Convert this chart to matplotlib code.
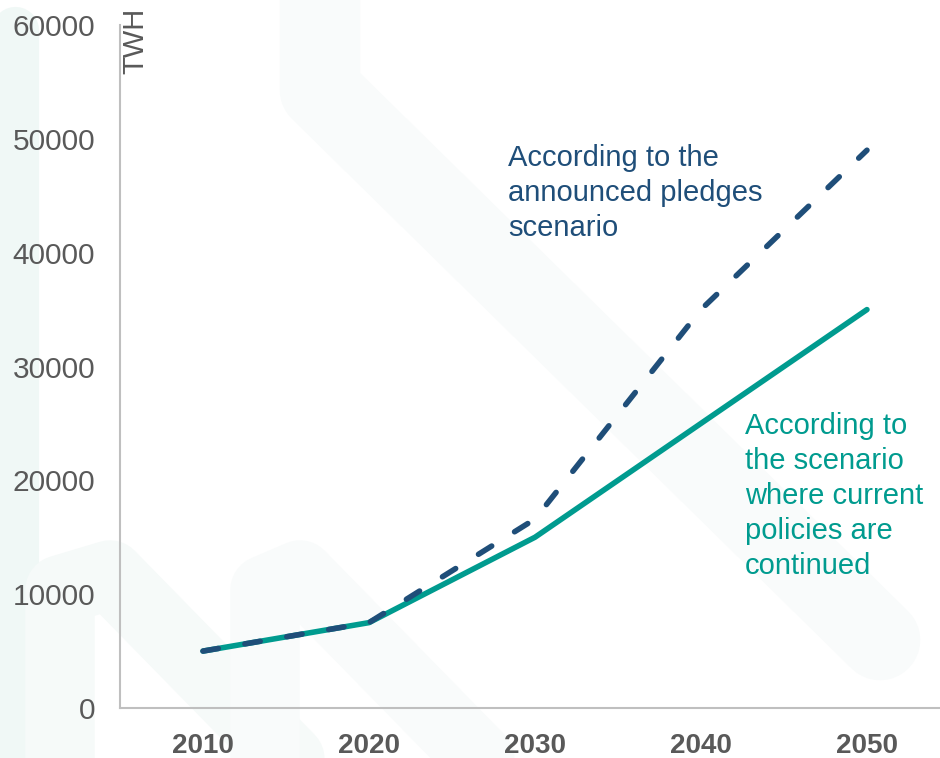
import matplotlib
matplotlib.use("Agg")
import matplotlib.pyplot as plt
from matplotlib.lines import Line2D

years = ["2010", "2020", "2030", "2040", "2050"]
current_policies = [5000, 7500, 15000, 25000, 35000]
announced_pledges = [5000, 7500, 16600, 35000, 49000]
yticks = [0, 10000, 20000, 30000, 40000, 50000, 60000]

plt.rcParams['font.family'] = ['Liberation Sans', 'DejaVu Sans']

W, H = 940, 758
fig = plt.figure(figsize=(W / 100, H / 100), dpi=100)

# faint background watermark shapes
def band(pts, lw, color):
    xs = [p[0] / W for p in pts]
    ys = [1 - p[1] / H for p in pts]
    fig.add_artist(Line2D(xs, ys, transform=fig.transFigure, color=color, lw=lw,
                          solid_capstyle='round', solid_joinstyle='round', zorder=0))

band([(15, 30), (15, 800)], 34, '#F0F8F6')
band([(320, -100), (320, 90), (880, 640)], 58, '#F9FBFB')
band([(60, 800), (60, 590), (110, 575), (330, 800)], 50, '#F6FAF9')
band([(265, 800), (265, 590), (300, 575), (520, 800)], 50, '#F9FBFB')

ax = fig.add_axes([120 / W, 1 - 708 / H, 820 / W, (708 - 25) / H])
ax.patch.set_alpha(0)

x = list(range(len(years)))
ax.plot(x, current_policies, color='#009B8F', lw=4.0, solid_capstyle='round', zorder=3)
ax.plot(x, announced_pledges, color='#1F4E79', lw=4.0, dashes=(2.8, 4.85),
        dash_capstyle='round', zorder=4)

ax.set_xlim(-0.5, 4.44)
ax.set_ylim(0, 60000)
ax.set_xticks(x)
ax.set_xticklabels(years, fontsize=20, fontweight='bold', color='#595959')
ax.set_yticks(yticks)
ax.set_yticklabels([str(v) for v in yticks], fontsize=21.5, color='#595959')
ax.tick_params(axis='both', length=0)
ax.tick_params(axis='x', pad=18)
ax.tick_params(axis='y', pad=18)

for s in ['top', 'right']:
    ax.spines[s].set_visible(False)
for s in ['left', 'bottom']:
    ax.spines[s].set_color('#BFBFBF')
    ax.spines[s].set_linewidth(1.5)

fig.text(135 / W, 1 - 41 / H, "TWH", rotation=90, fontsize=21, color='#595959',
         ha='center', va='center')

ax.text(1.837, 45250, "According to the\nannounced pledges\nscenario", fontsize=21,
        color='#1F4E79', ha='left', va='center', linespacing=1.32)
ax.text(3.265, 18630, "According to\nthe scenario\nwhere current\npolicies are\ncontinued",
        fontsize=21, color='#009B8F', ha='left', va='center', linespacing=1.32)

fig.savefig("out.png", dpi=100)
